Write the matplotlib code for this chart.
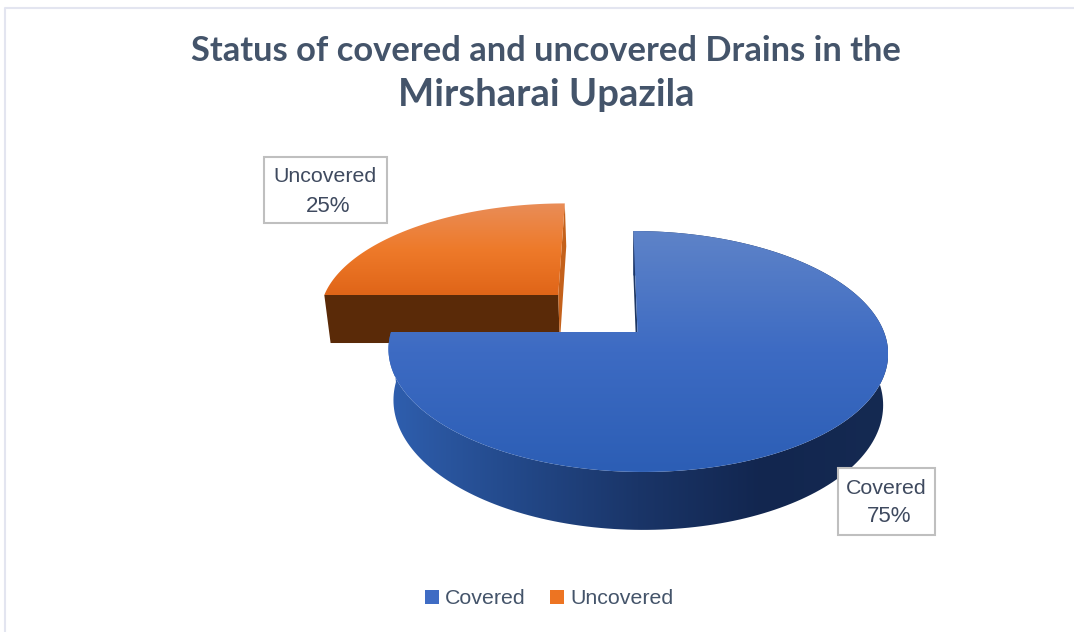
import numpy as np
import matplotlib
matplotlib.use("Agg")
import matplotlib.pyplot as plt
from matplotlib.colors import LinearSegmentedColormap
from matplotlib.patches import Patch, Polygon, Rectangle

# DATA
categories = ["Covered", "Uncovered"]
values = [75, 25]
explode = [0.0, 0.47]
title_lines = ["Status of covered and uncovered Drains in the", "Mirsharai Upazila"]
label_lines = [["Covered", "75%"], ["Uncovered", "25%"]]

# colours
title_color = "#44546A"
text_color = "#3F4A5F"
legend_colors = ["#3F6CC4", "#ED7422"]
blue_top = ["#5E83C8", "#3D6BC3", "#2C5EB5"]
blue_side = ["#2F5FAF", "#23498A", "#1A3568", "#12264F", "#152A52"]
orange_top = ["#E98D58", "#EE7A2A", "#E06518"]
orange_face = "#5A2A08"
orange_wall = "#C4611B"
blue_wall = "#1F3864"


# unit disk to picture pixels, with the perspective of the tilted pie
def project(u, v):
    d = 1 + 0.1618 * v
    return (637.5 + 246.5 * u + 98.3 * v) / d, (332 - 63.6 * v) / d


# the same point on the lower face of the pie
def drop(x, y):
    return 638 + 0.98 * (x - 638), 1.056 * y + 31.5


def slice_outline(start, sweep, shift):
    # angles run clockwise from the top, as in the original pie
    t = np.radians(90 - (start + np.linspace(0, sweep, 200)))
    mid = np.radians(90 - (start + sweep / 2))
    sx, sy = shift * np.cos(mid), shift * np.sin(mid)
    return np.cos(t) + sx, np.sin(t) + sy, sx, sy


def gradient_fill(ax, xy, colors, horizontal=False, zorder=2):
    xy = np.asarray(xy)
    cmap = LinearSegmentedColormap.from_list("g", colors)
    ramp = np.linspace(0, 1, 256)
    ramp = ramp[None, :] if horizontal else ramp[:, None]
    extent = (xy[:, 0].min(), xy[:, 0].max(), xy[:, 1].max(), xy[:, 1].min())
    im = ax.imshow(ramp, cmap=cmap, extent=extent, aspect="auto", zorder=zorder,
                   interpolation="bilinear", origin="upper")
    clip = Polygon(xy, closed=True, transform=ax.transData)
    im.set_clip_path(clip)


fig = plt.figure(figsize=(10.74, 6.32), dpi=100, facecolor="white")
ax = fig.add_axes([0, 0, 1, 1])

# slices from the values, first one starts at the top
shares = np.array(values) / sum(values) * 360
starts = np.concatenate([[0], np.cumsum(shares)[:-1]])

# Uncovered goes behind
u, v, sx, sy = slice_outline(starts[1], shares[1], explode[1])
x, y = project(u, v)
ax_x, ax_y = project(sx, sy)
bx, by = drop(x, y)
apex_bx, apex_by = drop(ax_x, ax_y)
ax.add_patch(Polygon([(ax_x, ax_y), (x[0], y[0]), (bx[0], by[0]), (apex_bx, apex_by)],
                     color=orange_face, zorder=1, lw=0))
ax.add_patch(Polygon([(ax_x, ax_y), (x[-1], y[-1]), (bx[-1], by[-1]), (apex_bx, apex_by)],
                     color=orange_wall, zorder=1, lw=0))
gradient_fill(ax, np.column_stack([np.append(x, ax_x), np.append(y, ax_y)]), orange_top, zorder=2)

# Covered in front
u, v, sx, sy = slice_outline(starts[0], shares[0], explode[0])
x, y = project(u, v)
ax_x, ax_y = project(sx, sy)
bx, by = drop(x, y)
apex_bx, apex_by = drop(ax_x, ax_y)
ax.add_patch(Polygon([(ax_x, ax_y), (x[0], y[0]), (bx[0], by[0]), (apex_bx, apex_by)],
                     color=blue_wall, zorder=3, lw=0))
side = np.column_stack([np.concatenate([x, bx[::-1]]), np.concatenate([y, by[::-1]])])
gradient_fill(ax, side, blue_side, horizontal=True, zorder=3)
gradient_fill(ax, np.column_stack([np.append(x, ax_x), np.append(y, ax_y)]), blue_top, zorder=4)

ax.set_xlim(0, 1074)
ax.set_ylim(632, 0)
ax.axis("off")

# chart frame
ax.plot([1074, 4.5, 4.5], [7.5, 7.5, 632], color="#E3E5F0", lw=1.5, zorder=0)

# title
for line, ypos, size in zip(title_lines, [51, 95], [24.8, 27.5]):
    ax.text(546, ypos, line, ha="center", va="center", fontsize=size, color=title_color,
            family="Lato", weight="bold")

# data labels
boxes = [(838, 468, 97, 67), (264, 157, 123, 66)]
for lines, (bx0, by0, bw, bh) in zip(label_lines, boxes):
    ax.add_patch(Rectangle((bx0, by0), bw, bh, facecolor="white", edgecolor="#BFBFBF",
                           lw=1.5, zorder=6))
    ax.text(bx0 + bw / 2 - 0.5, by0 + 20, lines[0], ha="center", va="center", fontsize=15.4,
            color=text_color, family="Liberation Sans", zorder=7)
    ax.text(bx0 + bw / 2 + 3, by0 + 49, lines[1], ha="center", va="center", fontsize=16,
            color=text_color, family="Liberation Sans", zorder=7)

# legend
handles = [Patch(facecolor=c, label=n) for c, n in zip(legend_colors, categories)]
ax.legend(handles=handles, ncol=2, loc="center", bbox_to_anchor=(549 / 1074, 1 - 599 / 632),
          frameon=False, prop={"family": "Liberation Sans", "size": 15.4}, labelcolor=title_color,
          handlelength=0.65, handleheight=0.65, handletextpad=0.28, columnspacing=1.15)

fig.savefig("out.png", dpi=100)
